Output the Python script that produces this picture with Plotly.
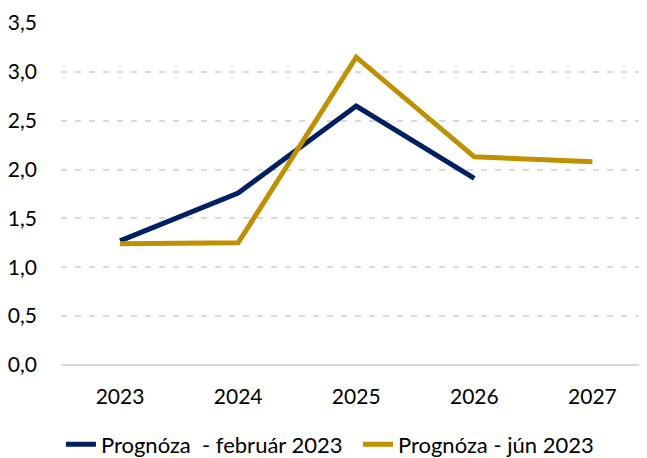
import plotly.graph_objects as go

years = ["2023", "2024", "2025", "2026", "2027"]
feb_values = [1.27, 1.76, 2.65, 1.91, None]
jun_values = [1.24, 1.25, 3.15, 2.13, 2.08]
y_ticks = [0, 0.5, 1.0, 1.5, 2.0, 2.5, 3.0, 3.5]

NAVY = "#002060"
GOLD = "#BF9000"
FONT = "Lato"

fig = go.Figure()
fig.add_trace(go.Scatter(x=years, y=feb_values, mode="lines",
                         name="Prognóza\u00a0 - február 2023",
                         line=dict(color=NAVY, width=5)))
fig.add_trace(go.Scatter(x=years, y=jun_values, mode="lines",
                         name="Prognóza - jún 2023",
                         line=dict(color=GOLD, width=5)))

fig.update_layout(
    width=647, height=458,
    margin=dict(l=53, r=0, t=15, b=101),
    paper_bgcolor="white", plot_bgcolor="white",
    separators=", ",
    font=dict(family=FONT, size=21, color="#000000"),
    showlegend=True,
    legend=dict(orientation="h", x=-0.0001, xanchor="left", y=-0.171, yanchor="top",
                font=dict(family=FONT, size=22, color="#000000"),
                entrywidth=252, traceorder="normal", bgcolor="rgba(0,0,0,0)",
                itemwidth=30, tracegroupgap=0),
    xaxis=dict(type="category", range=[-0.5, 4.53], showgrid=False, zeroline=False,
               showline=False, ticks="", ticklabelstandoff=17,
               tickfont=dict(family=FONT, size=21, color="#000000")),
    yaxis=dict(range=[0, 3.5], tickvals=y_ticks, tickformat=".1f",
               showgrid=True, gridcolor="#D9D9D9", gridwidth=2, griddash="6px,8px",
               zeroline=True, zerolinecolor="#D9D9D9", zerolinewidth=2,
               showline=False, ticks="", ticklabelstandoff=23,
               tickfont=dict(family=FONT, size=21, color="#000000")),
)

fig.write_html("out.html")
